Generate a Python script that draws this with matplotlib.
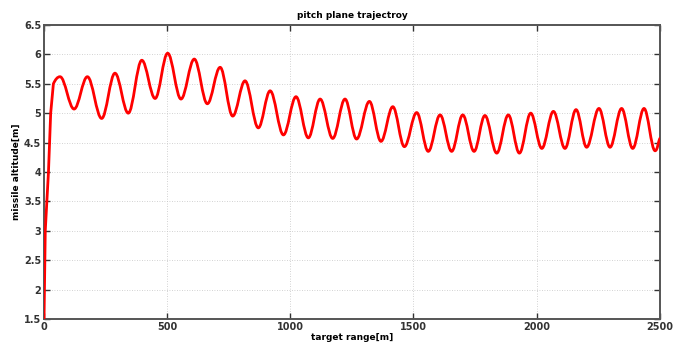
import matplotlib
matplotlib.use('Agg')
import matplotlib.pyplot as plt
from matplotlib.path import Path
from matplotlib.patches import PathPatch

# steep climb at the start of the trajectory
rise_x = [0, 5, 18, 27, 38]
rise_y = [1.5, 3.0, 4.0, 5.0, 5.5]

# peaks and troughs of the oscillation
ext_x = [65, 122, 176, 234, 288, 342, 397, 451, 502, 556, 610, 663, 715, 766,
         816, 870, 918, 972, 1023, 1073, 1121, 1172, 1222, 1269, 1321, 1368,
         1416, 1463, 1513, 1560, 1608, 1655, 1700, 1746, 1790, 1838, 1885,
         1930, 1976, 2021, 2068, 2115, 2160, 2203, 2253, 2298, 2345, 2390,
         2436, 2481]
ext_y = [5.62, 5.07, 5.62, 4.91, 5.68, 5.00, 5.90, 5.25, 6.02, 5.24, 5.92, 5.16,
         5.78, 4.95, 5.55, 4.75, 5.38, 4.63, 5.28, 4.58, 5.24, 4.57, 5.24, 4.56,
         5.20, 4.52, 5.11, 4.43, 5.01, 4.35, 4.97, 4.35, 4.97, 4.35, 4.96, 4.32,
         4.97, 4.32, 5.00, 4.40, 5.03, 4.40, 5.06, 4.42, 5.08, 4.42, 5.08, 4.40,
         5.08, 4.36]

# where the line leaves the plot
end_x = 2500
end_y = 4.57

x_ticks = [0, 500, 1000, 1500, 2000, 2500]
y_ticks = [1.5, 2, 2.5, 3, 3.5, 4, 4.5, 5, 5.5, 6, 6.5]

fig = plt.figure(figsize=(6.88, 3.47), dpi=100)
ax = fig.add_axes([0.064, 0.081, 0.895, 0.847])

# build a smooth path: straight climb, then half-wave curves between extrema
verts = list(zip(rise_x, rise_y))
codes = [Path.MOVETO] + [Path.LINETO] * (len(rise_x) - 1)

x0, y0 = rise_x[-1], rise_y[-1]
x1, y1 = ext_x[0], ext_y[0]
verts += [(x0 + 0.3 * (x1 - x0), y0 + 0.6 * (y1 - y0)), (x1 - 0.4 * (x1 - x0), y1), (x1, y1)]
codes += [Path.CURVE4] * 3

c = 0.3634  # bezier handle for a sine-like half wave
pts = list(zip(ext_x, ext_y)) + [(end_x, end_y)]
for (xa, ya), (xb, yb) in zip(pts[:-1], pts[1:]):
    dx = xb - xa
    if (xb, yb) == (end_x, end_y):
        # last piece only goes part way up the next rise
        verts += [(xa + 0.5 * dx, ya), (xb - 0.3 * dx, yb - 0.05), (xb, yb)]
    else:
        verts += [(xa + c * dx, ya), (xb - c * dx, yb), (xb, yb)]
    codes += [Path.CURVE4] * 3

patch = PathPatch(Path(verts, codes), facecolor='none', edgecolor='#ff0000',
                  lw=2.0, capstyle='round', joinstyle='round', zorder=3)
ax.add_patch(patch)

ax.set_xlim(0, 2500)
ax.set_ylim(1.5, 6.5)
ax.set_xticks(x_ticks)
ax.set_yticks(y_ticks)
ax.set_xticklabels([str(t) for t in x_ticks], fontweight='bold', fontsize=7)
ax.set_yticklabels([f'{t:g}' for t in y_ticks], fontweight='bold', fontsize=7)
ax.tick_params(direction='in', length=4, width=1, top=True, right=True, pad=2, colors='#333333')

ax.grid(True, linestyle=(0, (1, 2)), color='#c4c4c4', linewidth=0.6)
for s in ax.spines.values():
    s.set_color('#555555')
    s.set_linewidth(1.4)

ax.set_title('pitch plane trajectroy', fontweight='bold', fontsize=6.5, pad=5)
ax.set_xlabel('target range[m]', fontweight='bold', fontsize=6.5, labelpad=1)
ax.set_ylabel('missile altitude[m]', fontweight='bold', fontsize=6.5, labelpad=2)

fig.savefig('out.png', dpi=100)
